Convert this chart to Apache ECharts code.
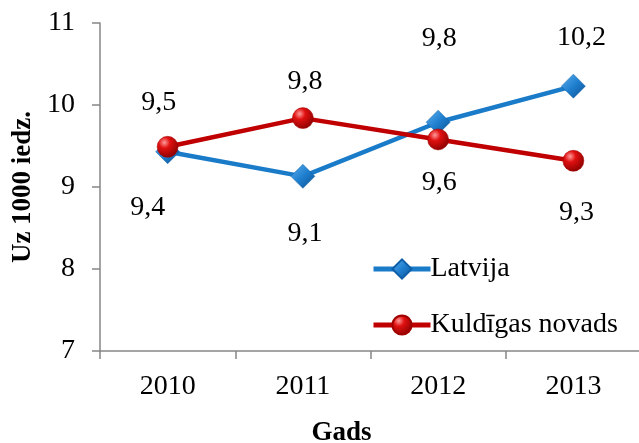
<!DOCTYPE html>
<html>
<head>
<meta charset="utf-8">
<script src="https://cdn.jsdelivr.net/npm/echarts@6/dist/echarts.min.js"></script>
<style>
  html, body { margin: 0; padding: 0; background: #fff; }
  #chart { width: 639px; height: 443px; }
</style>
</head>
<body>
<div id="chart"></div>
<script>
// dati
const years = ['2010', '2011', '2012', '2013']
const latvija = [9.43, 9.13, 9.79, 10.23]
const kuldiga = [9.49, 9.84, 9.58, 9.32]
const yTicks = { min: 7, max: 11, interval: 1 }

// etiķešu novietojums (tikai stils)
const latvijaLabelOffsets = [[-20, 56], [2, 57], [1, -84], [8, -48]]
const kuldigaLabelOffsets = [[-9, -44], [2, -36], [1, 43], [3, 52]]

const font = 'Liberation Serif, Times New Roman, serif'
const axisColor = '#868686'

const fmt = p => p.value.toFixed(1).replace('.', ',')

function withLabels (values, offsets) {
  return values.map((v, i) => ({
    value: v,
    label: { offset: offsets[i] }
  }))
}

const blueDiamond = {
  type: 'linear', x: 0, y: 0, x2: 1, y2: 1,
  colorStops: [
    { offset: 0, color: '#5fb0ee' },
    { offset: 0.5, color: '#1f7fcf' },
    { offset: 1, color: '#0b4f8f' }
  ]
}
const redBall = {
  type: 'radial', x: 0.35, y: 0.3, r: 0.75,
  colorStops: [
    { offset: 0, color: '#ff9a9a' },
    { offset: 0.35, color: '#e01010' },
    { offset: 1, color: '#8a0000' }
  ]
}

const chart = echarts.init(document.getElementById('chart'))
chart.setOption({
  animation: false,
  backgroundColor: '#fff',
  grid: { left: 100, right: -2, top: 23, bottom: 92, outerBoundsMode: 'none', containLabel: false },
  legend: {
    orient: 'vertical',
    left: 366,
    top: 250,
    itemWidth: 57,
    itemHeight: 24,
    itemGap: 28,
    textStyle: { fontFamily: font, fontSize: 28, color: '#000', lineHeight: 28, padding: [0, 0, 0, -5] },
    data: [
      { name: 'Latvija', lineStyle: { width: 5 } },
      { name: 'Kuldīgas novads', lineStyle: { width: 5 } }
    ]
  },
  xAxis: {
    type: 'category',
    data: years,
    boundaryGap: true,
    name: 'Gads',
    nameLocation: 'middle',
    nameGap: 69,
    nameTextStyle: { fontFamily: font, fontSize: 27, fontWeight: 'bold', color: '#000', padding: [0, 58, 0, 0] },
    axisLine: { lineStyle: { color: axisColor, width: 1.5 } },
    axisTick: { show: true, length: 8, lineStyle: { color: axisColor, width: 1.5 } },
    axisLabel: { fontFamily: font, fontSize: 28, color: '#000', margin: 22 },
    splitLine: { show: false }
  },
  yAxis: {
    type: 'value',
    min: yTicks.min,
    max: yTicks.max,
    interval: yTicks.interval,
    name: 'Uz 1000 iedz.',
    nameLocation: 'middle',
    nameGap: 62,
    nameTextStyle: { fontFamily: font, fontSize: 27, fontWeight: 'bold', color: '#000' },
    axisLine: { show: true, lineStyle: { color: axisColor, width: 1.5 } },
    axisTick: { show: true, length: 8, lineStyle: { color: axisColor, width: 1.5 } },
    axisLabel: { fontFamily: font, fontSize: 28, color: '#000', margin: 25 },
    splitLine: { show: false }
  },
  series: [
    {
      name: 'Latvija',
      type: 'line',
      data: withLabels(latvija, latvijaLabelOffsets),
      symbol: 'diamond',
      symbolSize: [24, 24],
      z: 2,
      lineStyle: { color: '#1a7bc9', width: 4.5 },
      itemStyle: { color: blueDiamond, borderColor: '#0d5ea8', borderWidth: 0.5 },
      label: {
        show: true,
        position: 'inside',
        formatter: fmt,
        fontFamily: font,
        fontSize: 28,
        color: '#000'
      }
    },
    {
      name: 'Kuldīgas novads',
      type: 'line',
      data: withLabels(kuldiga, kuldigaLabelOffsets),
      symbol: 'circle',
      symbolSize: 21,
      z: 3,
      lineStyle: { color: '#c00000', width: 4.5 },
      itemStyle: { color: redBall, borderColor: '#a00000', borderWidth: 0.5 },
      label: {
        show: true,
        position: 'inside',
        formatter: fmt,
        fontFamily: font,
        fontSize: 28,
        color: '#000'
      }
    }
  ]
})
</script>
</body>
</html>
